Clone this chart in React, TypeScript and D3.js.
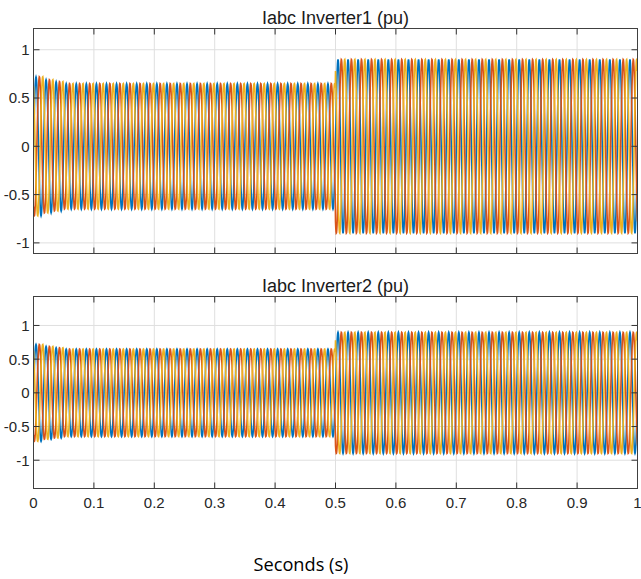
import React from 'react'
import * as d3 from 'd3'

// values
const panelTitles = ['Iabc Inverter1 (pu)', 'Iabc Inverter2 (pu)']
const phaseNames = ['Ia', 'Ib', 'Ic']
const phaseColors = ['#0072BD', '#D95319', '#EDB120']
const phaseShiftsDeg = [0, -120, 120]
const frequencyHz = 60
const stepTimes = [0, 0.5, 1]
const inverter1Amplitude = [0.65, 0.9]
const inverter2Amplitude = [0.65, 0.9]
const startupCyclePeaks = [0.72, 0.69, 0.67]
const xTicks = [0, 0.1, 0.2, 0.3, 0.4, 0.5, 0.6, 0.7, 0.8, 0.9, 1]
const yTicks = [-1, -0.5, 0, 0.5, 1]
const yDomains = [[-1.11, 1.22], [-1.42, 1.43]]

const W = 641
const H = 579
const left = 33.5
const right = 637.5
const panels = [
  { top: 28.5, bottom: 253.5 },
  { top: 296.5, bottom: 488.5 },
]

function makeSeries(amps: number[], phaseIdx: number) {
  const pts: [number, number][] = []
  const step = 1 / frequencyHz / 40
  const shift = (phaseShiftsDeg[phaseIdx] * Math.PI) / 180
  for (let t = 0; t <= 1.00001; t += step) {
    const seg = t < stepTimes[1] ? 0 : 1
    const cycle = Math.floor(t * frequencyHz)
    let a = amps[seg]
    if (cycle < startupCyclePeaks.length) a = startupCyclePeaks[cycle]
    pts.push([t, a * Math.sin(2 * Math.PI * frequencyHz * t + shift)])
  }
  return pts
}

const font = 'Liberation Sans, Arial, sans-serif'

function Panel({ idx }: { idx: number }) {
  const p = panels[idx]
  const x = d3.scaleLinear().domain([0, 1]).range([left, right])
  const y = d3.scaleLinear().domain(yDomains[idx]).range([p.bottom, p.top])
  const amps = idx === 0 ? inverter1Amplitude : inverter2Amplitude
  const line = d3.line<[number, number]>().x(d => x(d[0])).y(d => y(d[1]))
  const clipId = 'clip' + idx
  return (
    <g>
      <defs>
        <clipPath id={clipId}>
          <rect x={left} y={p.top} width={right - left} height={p.bottom - p.top} />
        </clipPath>
      </defs>
      <rect x={left} y={p.top} width={right - left} height={p.bottom - p.top} fill="#fff" />
      {xTicks.map(t => (
        <line key={'gx' + t} x1={x(t)} x2={x(t)} y1={p.top} y2={p.bottom} stroke="#dfdfdf" strokeWidth={1} />
      ))}
      {yTicks.map(t => (
        <line key={'gy' + t} x1={left} x2={right} y1={y(t)} y2={y(t)} stroke="#dfdfdf" strokeWidth={1} />
      ))}
      <g clipPath={`url(#${clipId})`}>
        {phaseNames.map((n, i) => (
          <path key={n} d={line(makeSeries(amps, i)) || ''} fill="none" stroke={phaseColors[i]} strokeWidth={1.6} />
        ))}
      </g>
      {xTicks.map(t => (
        <g key={'tx' + t}>
          <line x1={x(t)} x2={x(t)} y1={p.top} y2={p.top + 6} stroke="#333" />
          <line x1={x(t)} x2={x(t)} y1={p.bottom} y2={p.bottom - 6} stroke="#333" />
        </g>
      ))}
      {yTicks.map(t => (
        <g key={'ty' + t}>
          <line x1={left} x2={left + 6} y1={y(t)} y2={y(t)} stroke="#333" />
          <line x1={right} x2={right - 6} y1={y(t)} y2={y(t)} stroke="#333" />
          <text x={29.5} y={y(t)} dy="0.36em" textAnchor="end" fontSize={15} fontFamily={font} fill="#262626">
            {t}
          </text>
        </g>
      ))}
      <rect x={left} y={p.top} width={right - left} height={p.bottom - p.top} fill="none" stroke="#404040" strokeWidth={1} />
      <text x={(left + right) / 2} y={p.top - 5} textAnchor="middle" fontSize={18} fontFamily={font} fill="#1a1a1a">
        {panelTitles[idx]}
      </text>
      {idx === 1 &&
        xTicks.map(t => (
          <text key={'lx' + t} x={x(t)} y={p.bottom + 19} textAnchor="middle" fontSize={15} fontFamily={font} fill="#262626">
            {t}
          </text>
        ))}
    </g>
  )
}

export default function App() {
  return (
    <svg width={W} height={H} style={{ position: 'absolute', left: 0, top: 0, background: '#fff' }}>
      <rect width={W} height={H} fill="#fff" />
      <Panel idx={0} />
      <Panel idx={1} />
      <text x={301} y={571} textAnchor="middle" fontSize={19} fontFamily="Open Sans, sans-serif" fill="#000" textLength={95} lengthAdjust="spacingAndGlyphs">
        Seconds (s)
      </text>
    </svg>
  )
}
